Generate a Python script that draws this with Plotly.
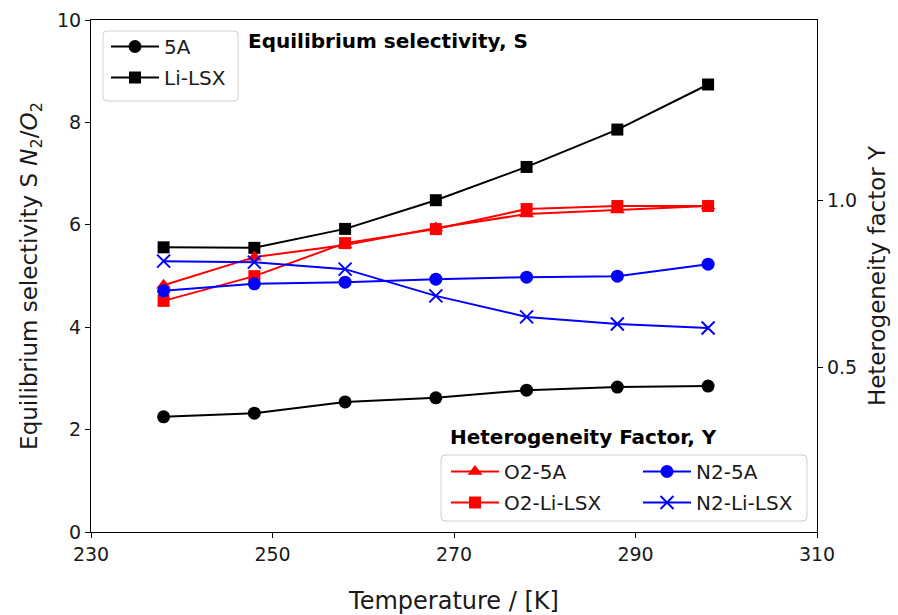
import plotly.graph_objects as go

# Temperatures (K)
temperature = [238, 248, 258, 268, 278, 288, 298]

# Equilibrium selectivity S (N2/O2), left axis
s_5a = [2.25, 2.32, 2.54, 2.62, 2.77, 2.83, 2.85]
s_lilsx = [5.56, 5.55, 5.92, 6.48, 7.13, 7.86, 8.74]

# Heterogeneity factor Y, right axis
y_o2_5a = [0.745, 0.829, 0.865, 0.916, 0.958, 0.970, 0.982]
y_o2_lilsx = [0.698, 0.772, 0.871, 0.913, 0.973, 0.982, 0.982]
y_n2_5a = [0.728, 0.749, 0.754, 0.763, 0.769, 0.772, 0.808]
y_n2_lilsx = [0.817, 0.814, 0.793, 0.713, 0.650, 0.629, 0.617]

x_ticks = [230, 250, 270, 290, 310]
left_ticks = [0, 2, 4, 6, 8, 10]
right_ticks = [0.5, 1.0]
right_tick_text = ["0.5", "1.0"]

W, H = 898, 615
ML, MR, MT, MB = 91, 81, 20, 83
PW, PH = W - ML - MR, H - MT - MB
FONT = "DejaVu Sans"
TXT = "#1a1a1a"


def px(x):
    return (x - ML) / PW


def py(y):
    return 1 - (y - MT) / PH


def rounded_box(x0, y0, x1, y1, r=4):
    rx, ry = r / PW, r / PH
    a, b, c, d = px(x0), px(x1), py(y0), py(y1)  # left, right, top, bottom
    return (
        f"M{a + rx},{c} L{b - rx},{c} Q{b},{c} {b},{c - ry} "
        f"L{b},{d + ry} Q{b},{d} {b - rx},{d} L{a + rx},{d} "
        f"Q{a},{d} {a},{d + ry} L{a},{c - ry} Q{a},{c} {a + rx},{c} Z"
    )


fig = go.Figure()

line_w = 2
msize = 13

fig.add_trace(go.Scatter(
    x=temperature, y=s_5a, name="5A", mode="lines+markers",
    line=dict(color="black", width=line_w),
    marker=dict(symbol="circle", size=msize, color="black"),
    legend="legend", legendgroup="a1", yaxis="y"))
fig.add_trace(go.Scatter(
    x=temperature, y=s_lilsx, name="Li-LSX", mode="lines+markers",
    line=dict(color="black", width=line_w),
    marker=dict(symbol="square", size=msize - 1, color="black"),
    legend="legend", legendgroup="a2", yaxis="y"))

fig.add_trace(go.Scatter(
    x=temperature, y=y_o2_5a, name="O2-5A", mode="lines+markers",
    line=dict(color="red", width=line_w),
    marker=dict(symbol="triangle-up", size=msize, color="red"),
    legend="legend2", legendgroup="b1", yaxis="y2"))
fig.add_trace(go.Scatter(
    x=temperature, y=y_o2_lilsx, name="O2-Li-LSX", mode="lines+markers",
    line=dict(color="red", width=line_w),
    marker=dict(symbol="square", size=msize - 1, color="red"),
    legend="legend2", legendgroup="b2", yaxis="y2"))
fig.add_trace(go.Scatter(
    x=temperature, y=y_n2_5a, name="N2-5A", mode="lines+markers",
    line=dict(color="blue", width=line_w),
    marker=dict(symbol="circle", size=msize, color="blue"),
    legend="legend3", legendgroup="c1", yaxis="y2"))
fig.add_trace(go.Scatter(
    x=temperature, y=y_n2_lilsx, name="N2-Li-LSX", mode="lines+markers",
    line=dict(color="blue", width=line_w),
    marker=dict(symbol="x-thin", size=msize,
                line=dict(color="blue", width=2)),
    legend="legend3", legendgroup="c2", yaxis="y2"))

axis_common = dict(
    showgrid=False, zeroline=False, showline=True, linecolor="black",
    linewidth=1.2, ticks="outside", ticklen=5, tickwidth=1.2, automargin=False,
    tickcolor="black", tickfont=dict(family=FONT, size=19, color=TXT),
)

legend_common = dict(
    bgcolor="rgba(0,0,0,0)", borderwidth=0, orientation="v",
    xanchor="left", yanchor="top", itemwidth=48,
    font=dict(family=FONT, size=20, color=TXT),
    itemclick=False, itemdoubleclick=False,
)

fig.update_layout(
    width=W, height=H, autosize=False,
    margin=dict(l=ML, r=MR, t=MT, b=MB),
    paper_bgcolor="white", plot_bgcolor="white",
    font=dict(family=FONT, color=TXT),
    xaxis=dict(
        range=[230, 310], tickvals=x_ticks, mirror=True,
        title=dict(text="Temperature / [K]", font=dict(size=24), standoff=28),
        **axis_common),
    yaxis=dict(
        range=[0, 10], tickvals=left_ticks,
        title=dict(text="Equilibrium selectivity S <i>N</i><sub>2</sub>/<i>O</i><sub>2</sub>",
                   font=dict(size=23), standoff=12),
        **axis_common),
    yaxis2=dict(
        range=[0.006, 1.539], tickvals=right_ticks, ticktext=right_tick_text,
        overlaying="y", side="right",
        title=dict(text="Heterogeneity factor Y", font=dict(size=23), standoff=12),
        **axis_common),
    legend=dict(x=px(106), y=py(27), tracegroupgap=2, **legend_common),
    legend2=dict(x=px(446), y=py(452), tracegroupgap=2, **legend_common),
    legend3=dict(x=px(638), y=py(452), tracegroupgap=2, **legend_common),
    shapes=[
        dict(type="path", xref="paper", yref="paper",
             path=rounded_box(103, 31, 238, 101),
             line=dict(color="#d0d0d0", width=1), fillcolor="rgba(255,255,255,0.8)",
             layer="above"),
        dict(type="path", xref="paper", yref="paper",
             path=rounded_box(441, 455, 807, 521),
             line=dict(color="#d0d0d0", width=1), fillcolor="rgba(255,255,255,0.8)",
             layer="above"),
    ],
    annotations=[
        dict(text="<b>Equilibrium selectivity, S</b>", xref="paper", yref="paper",
             x=px(246), y=py(41), xanchor="left", yanchor="middle", showarrow=False,
             font=dict(family=FONT, size=20, color="black")),
        dict(text="<b>Heterogeneity Factor, Y</b>", xref="paper", yref="paper",
             x=px(448), y=py(437), xanchor="left", yanchor="middle", showarrow=False,
             font=dict(family=FONT, size=20, color="black")),
    ],
)

fig.write_html("out.html")
